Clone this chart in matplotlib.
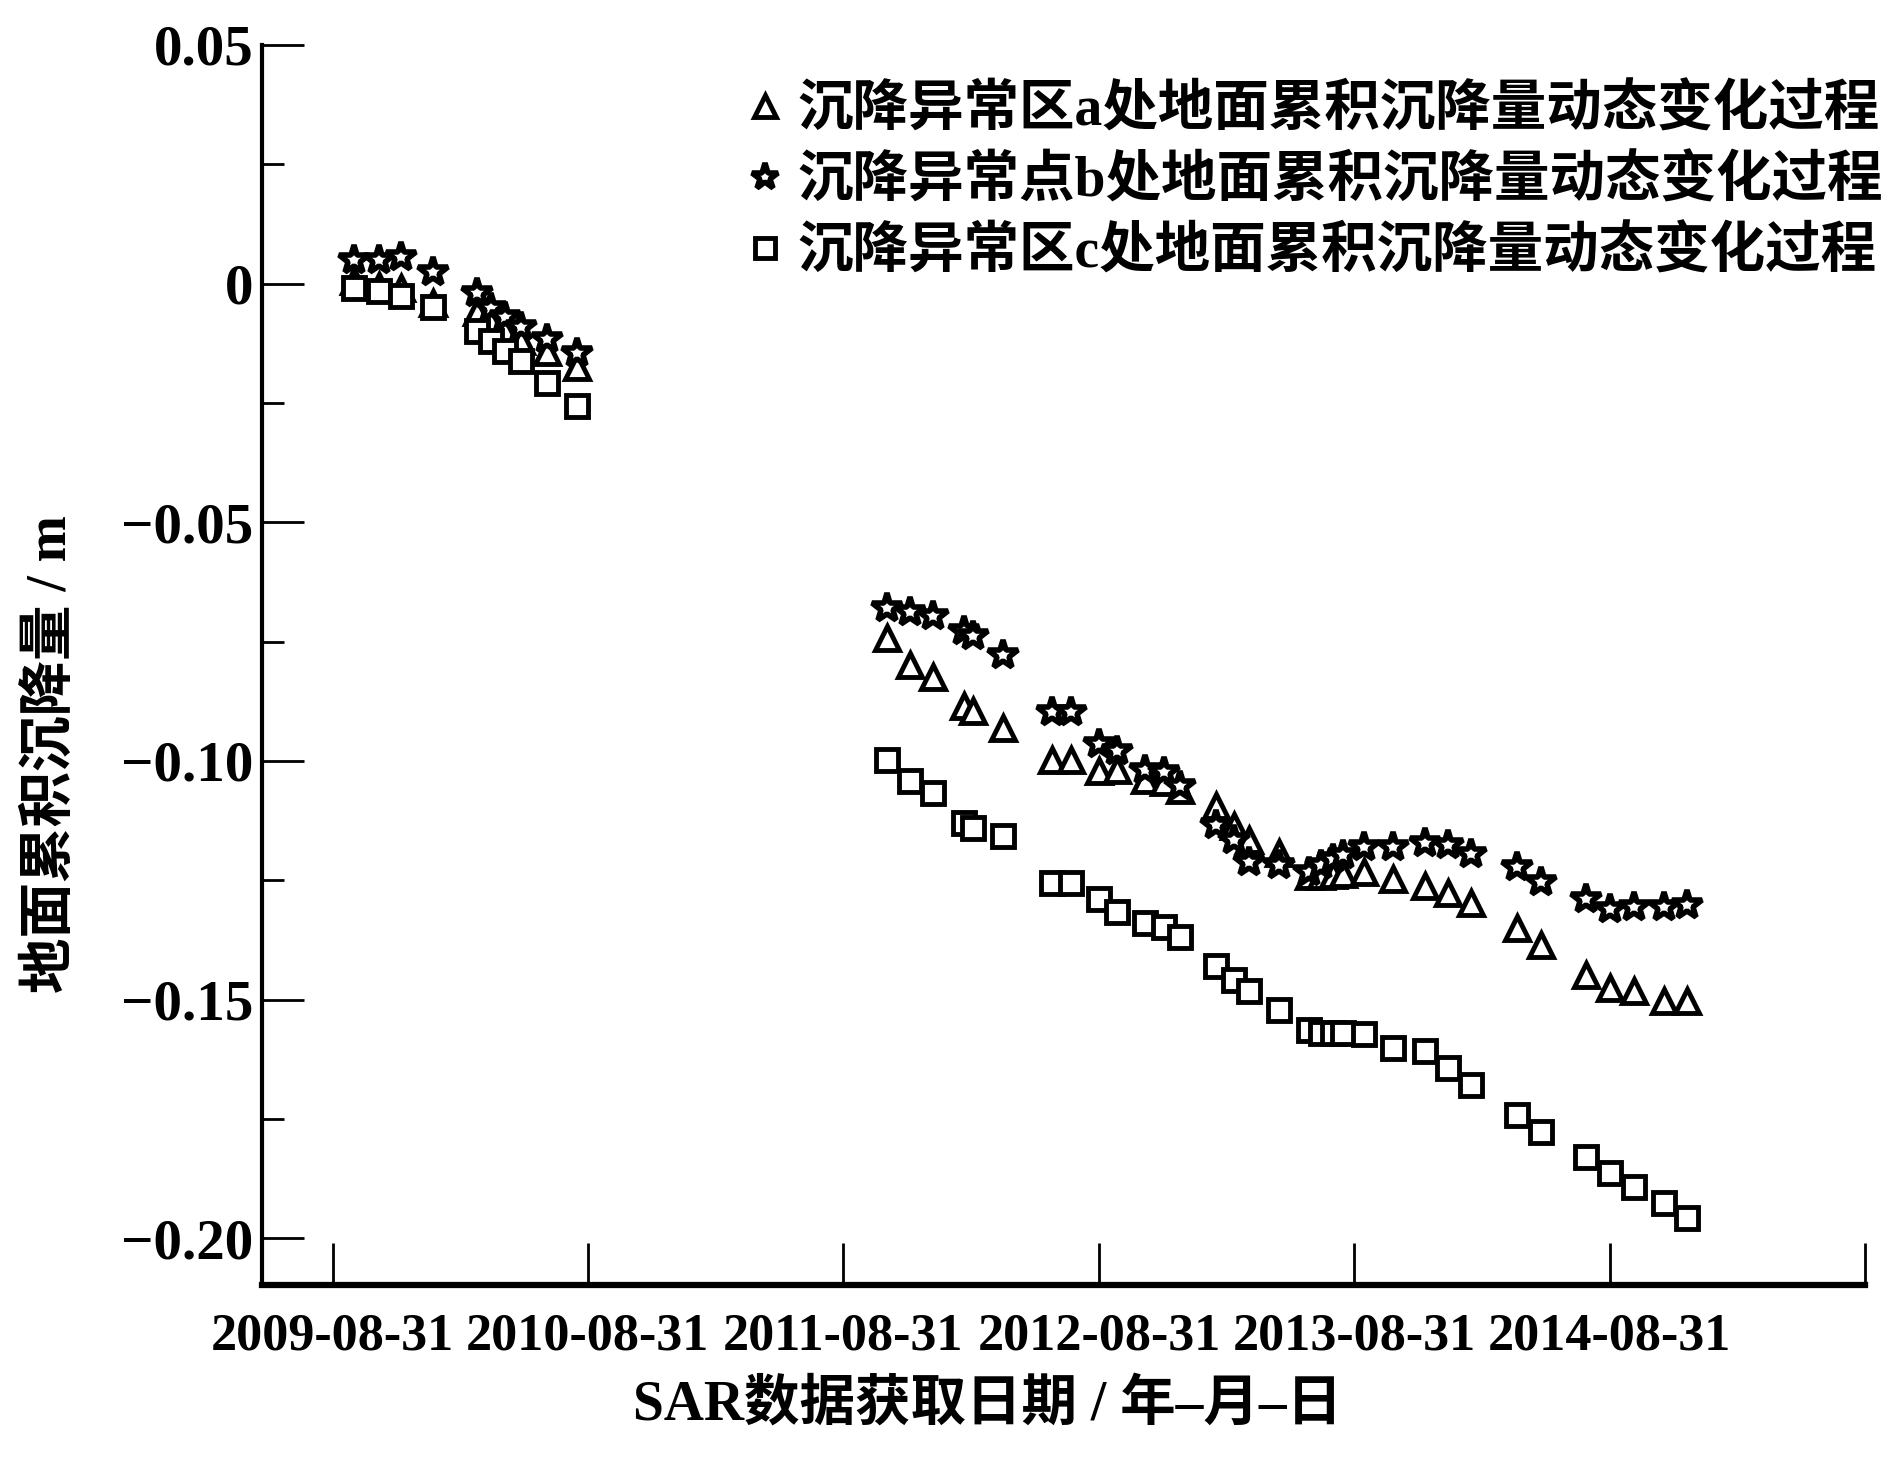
import numpy as np
import matplotlib
matplotlib.use('Agg')
import matplotlib.pyplot as plt
from matplotlib.ticker import MultipleLocator, FuncFormatter
from matplotlib.font_manager import FontProperties

# SAR acquisition dates
dates = ['2009-10-01', '2009-11-06', '2009-12-07', '2010-01-22',
         '2010-03-26', '2010-04-15', '2010-05-04', '2010-05-28', '2010-07-03', '2010-08-16',
         '2011-11-01', '2011-12-05', '2012-01-07', '2012-02-20', '2012-03-04', '2012-04-16',
         '2012-06-25', '2012-07-22', '2012-08-31', '2012-09-26', '2012-11-05', '2012-12-01', '2012-12-24',
         '2013-02-14', '2013-03-12', '2013-04-02', '2013-05-15', '2013-06-27', '2013-07-14', '2013-07-31',
         '2013-08-15', '2013-09-13', '2013-10-25', '2013-12-10', '2014-01-12', '2014-02-13',
         '2014-04-21', '2014-05-25', '2014-07-28', '2014-09-01', '2014-10-04', '2014-11-16', '2014-12-20']

# cumulative subsidence (m)
area_a = [0.0005, -0.0005, -0.001, -0.004,
          -0.006, -0.008, -0.010, -0.012, -0.0143, -0.0175,
          -0.0742, -0.0800, -0.0825, -0.0885, -0.0895, -0.0930,
          -0.0997, -0.0997, -0.1022, -0.1018, -0.1039, -0.1045, -0.1060,
          -0.1095, -0.1137, -0.1165, -0.1192, -0.1242, -0.1242, -0.1240,
          -0.1236, -0.1232, -0.1248, -0.1263, -0.1276, -0.1297,
          -0.1349, -0.1385, -0.1448, -0.1475, -0.1483, -0.1504, -0.1504]
point_b = [0.005, 0.005, 0.0055, 0.0025,
           -0.002, -0.005, -0.007, -0.009, -0.0115, -0.0145,
           -0.0680, -0.0688, -0.0697, -0.0728, -0.0738, -0.0778,
           -0.0898, -0.0898, -0.0965, -0.0980, -0.1018, -0.1024, -0.1053,
           -0.1135, -0.1165, -0.1211, -0.1219, -0.1232, -0.1219, -0.1206,
           -0.1198, -0.1181, -0.1181, -0.1171, -0.1177, -0.1196,
           -0.1223, -0.1253, -0.1290, -0.1311, -0.1305, -0.1307, -0.1301]
area_c = [-0.001, -0.0015, -0.0025, -0.0048,
          -0.0099, -0.0120, -0.0141, -0.0162, -0.0208, -0.0256,
          -0.0998, -0.1042, -0.1068, -0.1130, -0.1140, -0.1157,
          -0.1255, -0.1255, -0.1290, -0.1316, -0.1339, -0.1347, -0.1368,
          -0.1429, -0.1458, -0.1483, -0.1521, -0.1563, -0.1569, -0.1569,
          -0.1569, -0.1572, -0.1601, -0.1607, -0.1643, -0.1678,
          -0.1742, -0.1777, -0.1830, -0.1863, -0.1893, -0.1926, -0.1958]

tick_dates = ['2009-08-31', '2010-08-31', '2011-08-31', '2012-08-31',
              '2013-08-31', '2014-08-31', '2015-08-31']
tick_labels = ['2009-08-31', '2010-08-31', '2011-08-31', '2012-08-31',
               '2013-08-31', '2014-08-31', '']

labels = ['沉降异常区a处地面累积沉降量动态变化过程',
          '沉降异常点b处地面累积沉降量动态变化过程',
          '沉降异常区c处地面累积沉降量动态变化过程']
xlabel = 'SAR数据获取日期 / 年–月–日'
ylabel = '地面累积沉降量 / m'

plt.rcParams['font.family'] = ['Liberation Serif', 'Noto Sans CJK SC', 'DejaVu Sans']
plt.rcParams['font.weight'] = 'bold'

d = np.array(dates, dtype='datetime64[D]')
fig = plt.figure(figsize=(19, 14.58), dpi=100)
ax = fig.add_axes([262/1900, 173/1458, (1865-262)/1900, (1285-45)/1458])

ax.plot(d, area_a, ls='none', marker='^', ms=17, mfc='white', mec='black', mew=3.5, label=labels[0])
ax.plot(d, point_b, ls='none', marker='*', ms=22, mfc='white', mec='black', mew=4, label=labels[1])
ax.plot(d, area_c, ls='none', marker='s', ms=16, mfc='white', mec='black', mew=3.5, label=labels[2])

ax.set_xlim(np.datetime64('2009-05-22'), np.datetime64('2015-08-31'))
ax.set_ylim(-0.2098, 0.05)

ax.set_xticks(np.array(tick_dates, dtype='datetime64[D]'))
ax.set_xticklabels(tick_labels)
ax.yaxis.set_major_locator(MultipleLocator(0.05))
ax.yaxis.set_minor_locator(MultipleLocator(0.025))
ax.yaxis.set_major_formatter(FuncFormatter(
    lambda v, p: '0' if abs(v) < 1e-9 else f'{v:.2f}'.replace('-', '\u2212')))

ax.tick_params(axis='y', which='major', direction='in', length=30, width=2, pad=6, labelsize=41)
ax.tick_params(axis='y', which='minor', direction='in', length=16, width=2)
ax.tick_params(axis='x', which='major', direction='in', length=30, width=2, pad=20, labelsize=37.5)

for s in ['top', 'right']:
    ax.spines[s].set_visible(False)
ax.spines['left'].set_linewidth(3)
ax.spines['bottom'].set_linewidth(4.5)

leg = ax.legend(loc='upper left', bbox_to_anchor=(750/1900, 1 - 84/1458),
                bbox_transform=fig.transFigure, frameon=False, borderpad=0,
                borderaxespad=0, handlelength=0.55, handletextpad=0.3,
                labelspacing=0.32, markerscale=0.9,
                prop=FontProperties(family=['Liberation Serif', 'Noto Sans CJK SC'], size=40, weight='bold'))

fig.text(52/1900, 1 - 754/1458, ylabel, rotation=90, ha='center', va='center', fontsize=40)
fig.text(988/1900, 1 - 1405/1458, xlabel, ha='center', va='center', fontsize=40)

fig.savefig('out.png', dpi=100)
